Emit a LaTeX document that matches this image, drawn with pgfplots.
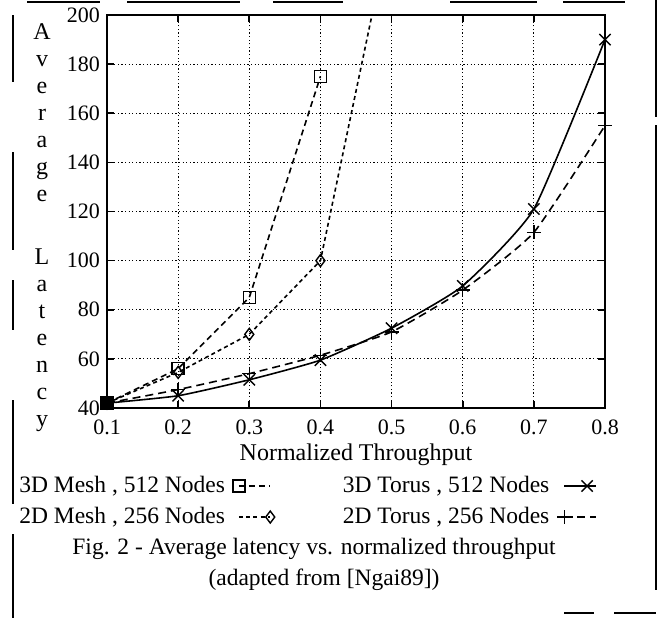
\documentclass[border=0pt]{standalone}
\usepackage{fontspec}
\setmainfont{Liberation Serif}
\usepackage{pgfplots}
\pgfplotsset{compat=1.18}
\pgfplotsset{
  markleft/.style={legend image code/.code={\draw[mark repeat=2,mark phase=1,##1] plot coordinates {(0cm,0cm) (0.55cm,0cm)};}},
  markright/.style={legend image code/.code={\draw[##1,mark indices={2}] plot coordinates {(0cm,0cm) (0.55cm,0cm)};}},
  markmid/.style={legend image code/.code={\draw[mark repeat=2,mark phase=2,##1] plot coordinates {(0cm,0cm) (0.4cm,0cm) (0.55cm,0cm)};}},
}
\begin{document}
\begin{tikzpicture}
\path[use as bounding box] (0,0) rectangle (331pt,-309pt);
\begin{axis}[
  at={(53.5pt,-204pt)}, anchor=south west,
  scale only axis, width=249pt, height=196.5pt,
  xmin=0.1, xmax=0.8, ymin=40, ymax=200,
  xtick={0.1,0.2,0.3,0.4,0.5,0.6,0.7,0.8},
  xticklabels={0.1,0.2,0.3,0.4,0.5,0.6,0.7,0.8},
  ytick={40,60,80,100,120,140,160,180,200},
  tick align=inside, xtick pos=both, ytick pos=both,
  major tick length=3.5pt,
  axis line style={line width=1.4pt},
  every tick/.style={black, line width=0.8pt},
  grid=major,
  major grid style={black, line width=0.4pt, dash pattern=on 0.6pt off 1.2pt},
  ticklabel style={font=\fontsize{11}{13}\selectfont},
  xticklabel style={yshift=-2.5pt},
  /pgf/number format/assume math mode=true,
  xlabel={Normalized Throughput},
  xlabel style={font=\fontsize{12}{14}\selectfont, at={(axis description cs:0.5,0)}, anchor=base, yshift=-26pt},
  clip mode=individual,
  legend columns=2, legend plot pos=right, legend cell align=left,
  legend style={at={(-0.176,-0.1705)}, anchor=north west, draw=none, fill=none,
    inner sep=0pt, outer sep=0pt, font=\fontsize{11.75}{14}\selectfont, row sep=4.5pt,
    nodes={inner sep=0pt, text height=8.5pt, text depth=2.5pt},
    /tikz/every odd column/.append style={column sep=4pt},
    /tikz/every even column/.append style={column sep=34pt}},
]
\addplot[black, line width=0.8pt, dash pattern=on 3pt off 2pt, mark=square, mark size=3pt,
  mark options={solid, line width=0.7pt}, markleft]
  coordinates {(0.1,42)(0.2,56)(0.3,85)(0.4,175)};
\addlegendentry{3D Mesh , 512 Nodes}
\addplot[black, line width=0.8pt, solid, smooth, tension=0.3, mark=x, mark size=4pt,
  mark options={solid, line width=0.7pt}, markmid]
  coordinates {(0.1,42)(0.2,45)(0.3,51.5)(0.4,59.5)(0.5,72.5)(0.6,89.7)(0.7,121)(0.8,190)};
\addlegendentry{3D Torus , 512 Nodes}
\addplot[black, line width=0.8pt, dash pattern=on 2pt off 1.6pt, mark=diamond, mark size=3pt,
  mark options={solid, line width=0.7pt}, mark indices={1,2,3,4}, markright]
  coordinates {(0.1,42)(0.2,54.5)(0.3,70)(0.4,100)(0.5,238)};
\addlegendentry{2D Mesh , 256 Nodes}
\addplot[black, line width=0.8pt, dash pattern=on 4pt off 2.5pt, smooth, tension=0.3, mark=+, mark size=3.5pt,
  mark options={solid, line width=0.7pt}, markleft]
  coordinates {(0.1,42)(0.2,47.5)(0.3,54)(0.4,61.5)(0.5,71)(0.6,88)(0.7,111.5)(0.8,155)};
\addlegendentry{2D Torus , 256 Nodes}
\addplot[black, only marks, mark=square*, mark size=3pt, forget plot] coordinates {(0.1,42)};
\end{axis}
% stacked y label
\node[align=center, inner sep=0pt, font=\fontsize{12}{13.5}\selectfont] at (21pt,-113.75pt)
  {A\\v\\e\\r\\a\\g\\e\\[18pt]L\\a\\t\\e\\n\\c\\y};
% caption
\node[anchor=base, inner sep=0pt, font=\fontsize{11.75}{14}\selectfont] at (157pt,-277pt)
  {Fig. 2 - Average latency vs. normalized throughput};
\node[anchor=base, inner sep=0pt, font=\fontsize{11.75}{14}\selectfont] at (162pt,-292.5pt)
  {(adapted from [Ngai89])};
% frame fragments from the scanned page
\begin{scope}[line width=0.8pt]
\draw (6.5pt,-7.5pt) -- (6.5pt,-41pt);
\draw (6.5pt,-76pt) -- (6.5pt,-125pt);
\draw (6.5pt,-140pt) -- (6.5pt,-165pt);
\draw (6.5pt,-200pt) -- (6.5pt,-252pt);
\draw (6.5pt,-267pt) -- (6.5pt,-309pt);
\draw (328pt,0pt) -- (328pt,-58.5pt);
\draw (328pt,-62.5pt) -- (328pt,-295pt);
\draw (13.5pt,-1pt) -- (50pt,-1pt);
\draw (63.5pt,-1pt) -- (120pt,-1pt);
\draw (136.5pt,-1pt) -- (171.5pt,-1pt);
\draw (225pt,-1pt) -- (268.5pt,-1pt);
\draw (281.5pt,-1pt) -- (312.5pt,-1pt);
\draw[line width=1.2pt] (282pt,-306.5pt) -- (297pt,-306.5pt);
\draw (307pt,-306.5pt) -- (328pt,-306.5pt);
\end{scope}
\end{tikzpicture}
\end{document}
